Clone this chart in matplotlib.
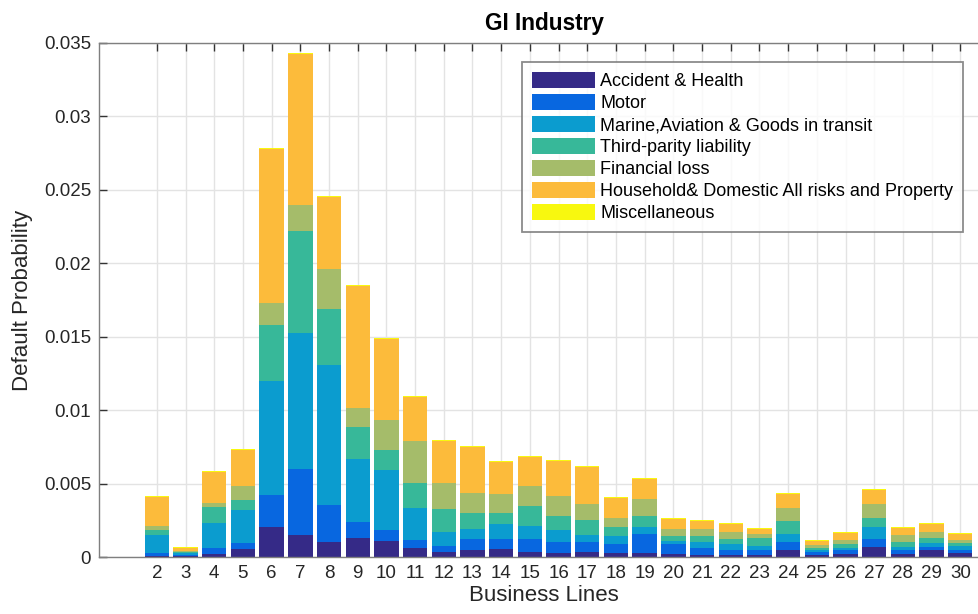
"""
GI Industry: default probability by business line, stacked by insurance class.
"""

import matplotlib.pyplot as plt
import numpy as np

plt.rcParams["font.family"] = ["Liberation Sans", "DejaVu Sans"]

business_lines = list(range(2, 31))

classes = [
    "Accident & Health",
    "Motor",
    "Marine,Aviation & Goods in transit",
    "Third-parity liability",
    "Financial loss",
    "Household& Domestic All risks and Property",
    "Miscellaneous",
]

colors = ["#352a87", "#0867e0", "#0b9ccf", "#37b899", "#a5bc6a", "#fcbb3b", "#f8f80f"]

# one value per business line (2..30)
accident = [0.00009, 0.00007, 0.00023, 0.00057, 0.00202, 0.00152, 0.00102, 0.00132, 0.00109,
            0.00064, 0.00034, 0.00045, 0.00057, 0.00034, 0.00027, 0.00034, 0.00027, 0.00027,
            0.00023, 0.00016, 0.00014, 0.00014, 0.00050, 0.00014, 0.00023, 0.00068, 0.00023,
            0.00045, 0.00027]
motor = [0.00018, 0.00007, 0.00039, 0.00041, 0.00222, 0.00445, 0.00254, 0.00107, 0.00077,
         0.00050, 0.00041, 0.00075, 0.00064, 0.00086, 0.00077, 0.00070, 0.00064, 0.00132,
         0.00064, 0.00045, 0.00036, 0.00032, 0.00054, 0.00018, 0.00023, 0.00057, 0.00023,
         0.00023, 0.00023]
marine = [0.00120, 0.00014, 0.00173, 0.00220, 0.00774, 0.00929, 0.00949, 0.00427, 0.00404,
          0.00222, 0.00095, 0.00073, 0.00102, 0.00091, 0.00077, 0.00043, 0.00054, 0.00045,
          0.00023, 0.00039, 0.00036, 0.00027, 0.00054, 0.00014, 0.00016, 0.00079, 0.00023,
          0.00027, 0.00027]
third_party = [0.00039, 0.00007, 0.00107, 0.00070, 0.00384, 0.00692, 0.00381, 0.00220, 0.00136,
               0.00170, 0.00154, 0.00107, 0.00079, 0.00134, 0.00095, 0.00107, 0.00059, 0.00077,
               0.00034, 0.00043, 0.00036, 0.00054, 0.00084, 0.00018, 0.00025, 0.00064, 0.00032,
               0.00036, 0.00018]
financial = [0.00023, 0.00007, 0.00027, 0.00093, 0.00148, 0.00177, 0.00277, 0.00132, 0.00209,
             0.00284, 0.00182, 0.00136, 0.00129, 0.00141, 0.00138, 0.00109, 0.00061, 0.00116,
             0.00050, 0.00045, 0.00045, 0.00027, 0.00095, 0.00018, 0.00032, 0.00091, 0.00048,
             0.00039, 0.00023]
household = [0.00200, 0.00018, 0.00211, 0.00250, 0.01049, 0.01033, 0.00488, 0.00826, 0.00547,
             0.00300, 0.00282, 0.00316, 0.00216, 0.00197, 0.00241, 0.00250, 0.00134, 0.00136,
             0.00066, 0.00059, 0.00057, 0.00039, 0.00093, 0.00025, 0.00045, 0.00098, 0.00050,
             0.00054, 0.00036]
misc = [0.00007, 0.00008, 0.00007, 0.00007, 0.00007, 0.00007, 0.00007, 0.00007, 0.00007,
        0.00007, 0.00007, 0.00007, 0.00007, 0.00007, 0.00007, 0.00007, 0.00007, 0.00007,
        0.00007, 0.00007, 0.00007, 0.00007, 0.00007, 0.00007, 0.00007, 0.00009, 0.00007,
        0.00007, 0.00007]

series = [accident, motor, marine, third_party, financial, household, misc]

y_ticks = [0, 0.005, 0.01, 0.015, 0.02, 0.025, 0.03, 0.035]
y_tick_labels = ["0", "0.005", "0.01", "0.015", "0.02", "0.025", "0.03", "0.035"]


def main():
    fig = plt.figure(figsize=(9.79, 6.14), dpi=100)
    ax = fig.add_axes([0.1016, 0.0928, 0.9086, 0.8372])

    x = np.array(business_lines)
    bottom = np.zeros(len(x))
    for name, vals, c in zip(classes, series, colors):
        vals = np.array(vals)
        ax.bar(x, vals, width=0.85, bottom=bottom, color=c, label=name,
               edgecolor="none", zorder=2)
        bottom += vals

    ax.set_xlim(0, 31)
    ax.set_ylim(0, 0.035)
    ax.set_xticks(business_lines)
    ax.set_xticklabels([str(b) for b in business_lines])
    ax.set_yticks(y_ticks)
    ax.set_yticklabels(y_tick_labels)

    ax.grid(True, color="#e3e3e3", linewidth=1.0, zorder=0)
    ax.set_axisbelow(True)
    for sp in ax.spines.values():
        sp.set_color("#7f7f7f")
        sp.set_linewidth(1.0)
    ax.tick_params(direction="in", length=6, width=1, color="#333333",
                   labelsize=13.5, labelcolor="#262626", top=True, right=True, pad=6)

    ax.set_title("GI Industry", fontsize=16.3, fontweight="bold", pad=9)
    ax.set_xlabel("Business Lines", fontsize=16, color="#262626", labelpad=2)
    ax.set_ylabel("Default Probability", fontsize=16, color="#262626", labelpad=8)

    leg = ax.legend(loc="upper left", bbox_to_anchor=(0.4747, 0.9624), fontsize=13,
                    frameon=True, fancybox=False, edgecolor="#6f6f6f",
                    handlelength=3.5, handleheight=0.95, handletextpad=0.3,
                    labelspacing=0.22, borderpad=0.55, borderaxespad=0)
    leg.get_frame().set_linewidth(1.3)

    fig.savefig("out.png", dpi=100)
    plt.close(fig)


if __name__ == "__main__":
    main()
